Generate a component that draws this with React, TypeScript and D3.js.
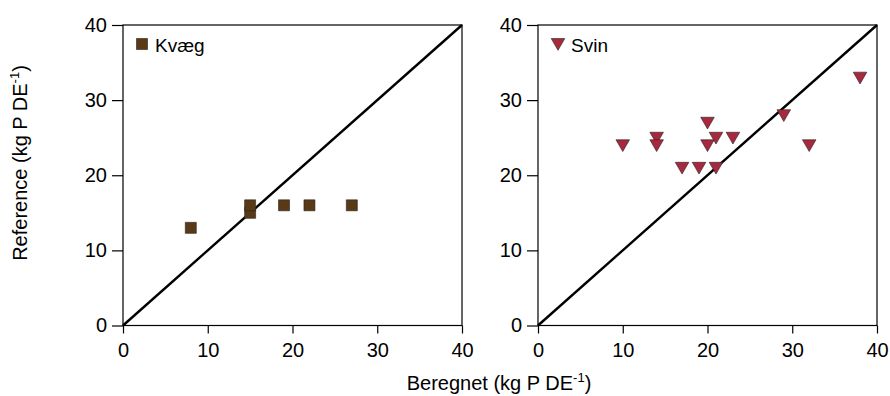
import React, { useEffect, useRef } from 'react'
import * as d3 from 'd3'

// Kvæg (cattle)
const kvaegX = [8, 15, 15, 19, 22, 27]
const kvaegY = [13, 15, 16, 16, 16, 16]

// Svin (pigs)
const svinX = [10, 14, 14, 17, 19, 20, 20, 21, 21, 23, 29, 32, 38]
const svinY = [24, 25, 24, 21, 21, 27, 24, 25, 21, 25, 28, 24, 33]

const ticks = [0, 10, 20, 30, 40]

const WIDTH = 890
const HEIGHT = 396

const panels = [
    { name: 'Kvæg', xs: kvaegX, ys: kvaegY, left: 123, right: 462, marker: 'square', color: '#5a3a16' },
    { name: 'Svin', xs: svinX, ys: svinY, left: 538, right: 877, marker: 'triangle', color: '#a8283e' },
]

const top = 25
const bottom = 325.5

export default function App() {
    const svgRef = useRef<SVGSVGElement | null>(null)

    useEffect(() => {
        const svg = d3.select(svgRef.current)
        svg.selectAll('*').remove()
        const font = '"Liberation Sans", Arial, sans-serif'

        panels.forEach((p) => {
            const x = d3.scaleLinear().domain([0, 40]).range([p.left, p.right])
            const y = d3.scaleLinear().domain([0, 40]).range([bottom, top])
            const g = svg.append('g')

            // frame
            g.append('rect')
                .attr('x', p.left)
                .attr('y', top)
                .attr('width', p.right - p.left)
                .attr('height', bottom - top)
                .attr('fill', 'none')
                .attr('stroke', '#000')
                .attr('stroke-width', 1.2)

            // axes
            const ax = g.append('g')
                .attr('transform', `translate(0, ${bottom})`)
                .call(d3.axisBottom(x).tickValues(ticks).tickSize(8).tickPadding(9).tickSizeOuter(0))
            const ay = g.append('g')
                .attr('transform', `translate(${p.left}, 0)`)
                .call(d3.axisLeft(y).tickValues(ticks).tickSize(11).tickPadding(5).tickSizeOuter(0))
            ;[ax, ay].forEach((a) => {
                a.select('.domain').remove()
                a.selectAll('line').attr('stroke', '#000').attr('stroke-width', 1.2)
                a.selectAll('text').attr('font-family', font).attr('font-size', 20).attr('fill', '#000')
            })

            // 1:1 line
            g.append('line')
                .attr('x1', x(0)).attr('y1', y(0))
                .attr('x2', x(40)).attr('y2', y(40))
                .attr('stroke', '#000')
                .attr('stroke-width', 2.4)

            const sym = p.marker === 'square'
                ? d3.symbol().type(d3.symbolSquare).size(121)
                : d3.symbol().type(d3.symbolTriangle).size(80)
            const rot = p.marker === 'square' ? 0 : 180

            g.selectAll('.pt')
                .data(p.xs.map((v, i) => [v, p.ys[i]]))
                .join('path')
                .attr('d', sym)
                .attr('transform', (d) => `translate(${x(d[0])}, ${y(d[1]) - (rot ? 1.5 : 0)}) rotate(${rot})`)
                .attr('fill', p.color)
                .attr('stroke', '#222')
                .attr('stroke-width', 0.6)

            // legend
            const lx = p.left + (p.marker === 'square' ? 19 : 20)
            const ly = 44
            g.append('path')
                .attr('d', sym)
                .attr('transform', `translate(${lx}, ${ly - (rot ? 1.5 : 0)}) rotate(${rot})`)
                .attr('fill', p.color)
                .attr('stroke', '#222')
                .attr('stroke-width', 0.6)
            g.append('text')
                .attr('x', lx + 13)
                .attr('y', ly + 8)
                .attr('font-family', font)
                .attr('font-size', 19)
                .text(p.name)
        })

        // axis titles
        const xt = svg.append('text')
            .attr('x', 499)
            .attr('y', 390)
            .attr('text-anchor', 'middle')
            .attr('font-family', font)
            .attr('font-size', 20)
        xt.append('tspan').text('Beregnet (kg P DE')
        xt.append('tspan').attr('font-size', 13).attr('dy', -8).text('-1')
        xt.append('tspan').attr('dy', 8).text(')')

        const yt = svg.append('text')
            .attr('transform', `translate(27, 163) rotate(-90)`)
            .attr('text-anchor', 'middle')
            .attr('font-family', font)
            .attr('font-size', 20)
        yt.append('tspan').text('Reference (kg P DE')
        yt.append('tspan').attr('font-size', 13).attr('dy', -8).text('-1')
        yt.append('tspan').attr('dy', 8).text(')')
    }, [])

    return (
        <svg ref={svgRef} width={WIDTH} height={HEIGHT} style={{ position: 'absolute', left: 0, top: 0, background: '#fff' }} />
    )
}
